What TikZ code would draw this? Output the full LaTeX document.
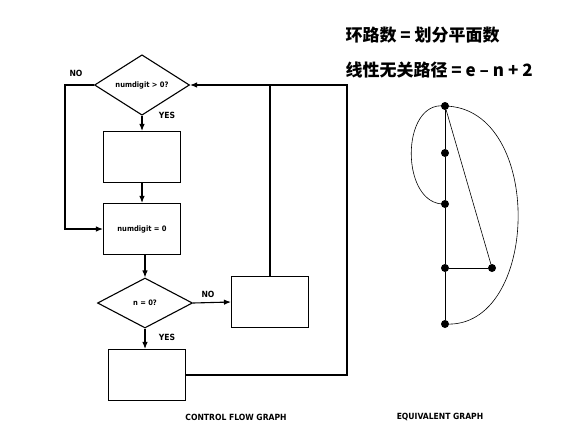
\documentclass[tikz,border=0pt]{standalone}
\usepackage{fontspec}
\setsansfont{DejaVu Sans Condensed}
\newfontfamily\cjk{Noto Sans CJK SC}
\usetikzlibrary{shapes.geometric, arrows.meta}

\tikzset{
  decision/.style={draw, line width=1.1pt, diamond, inner sep=0pt, minimum width=95pt, minimum height=50pt, font=\sffamily\bfseries\fontsize{7.5}{9}\selectfont},
  process/.style={draw, line width=1.1pt, rectangle, minimum width=77pt, minimum height=51pt, font=\sffamily\bfseries\fontsize{7.5}{9}\selectfont},
  flow/.style={line width=1.1pt},
  vertex/.style={circle, fill=black, inner sep=0pt, minimum size=8pt},
  lbl/.style={font=\sffamily\bfseries\fontsize{8.5}{10}\selectfont},
  formula/.style={anchor=west, font=\cjk\bfseries\fontsize{17}{20}\selectfont},
}

\begin{document}
\begin{tikzpicture}[x=1pt, y=-1pt, >={Latex[length=7pt, width=5.5pt]}]
\useasboundingbox (0,0) rectangle (580,439);

% control flow graph
\node (d1) [decision] at (142,85) {numdigit > 0?};
\node (b1) [process] at (142,157) {};
\node (b2) [process] at (142,229) {numdigit = 0};
\node (d2) [decision] at (145,303) {n = 0?};
\node (b3) [process] at (270,302) {};
\node (b4) [process] at (147,375) {};

\coordinate (left) at (65,85);
\coordinate (ret) at (347,85);

\draw [->, flow] (d1) -- (b1);
\draw [->, flow] (b1) -- (b2);
\draw [->, flow] (b2.south -| d2) -- (d2.north);
\draw [->, flow] (d1.west) -- (left) |- (b2.west);
\draw [->, flow] (d2.east) -- (b3.west);
\draw [->, flow] (d2.south) -- (d2.south |- b4.north);
\draw [flow] (b3.north) -- (b3.north |- ret);
\draw [->, flow] (b4.east) -| (ret) -- (d1.east);

\node (no1) [lbl] at (76,73) {NO};
\node (yes1) [lbl] at (167,115) {YES};
\node (no2) [lbl] at (208,294) {NO};
\node (yes2) [lbl] at (167,337) {YES};

% equivalent graph
\node (g1) [vertex] at (445,106) {};
\node (g2) [vertex] at (445,153) {};
\node (g3) [vertex] at (445,204) {};
\node (g4) [vertex] at (445,268) {};
\node (g5) [vertex] at (445,324) {};
\node (g6) [vertex] at (492,268) {};

\draw [thick] (g1) -- (g2) -- (g3) -- (g4) -- (g5);
\draw [thick] (g4) -- (g6);
\draw [semithick] (g1) -- (g6);
\draw [semithick] (g1.center) .. controls (400,100) and (400,206) .. (g3.center);
\draw [semithick] (g1.center) .. controls (545,108) and (540,330) .. (g5.center);

% captions
\node (cap1) [lbl] at (236,417) {CONTROL FLOW GRAPH};
\node (cap2) [lbl] at (440,417) {EQUIVALENT GRAPH};

\node (f1) [formula] at (342,35) {环路数 = 划分平面数};
\node (f2) [formula] at (342,70) {线性无关路径 = e – n + 2};
\end{tikzpicture}
\end{document}
